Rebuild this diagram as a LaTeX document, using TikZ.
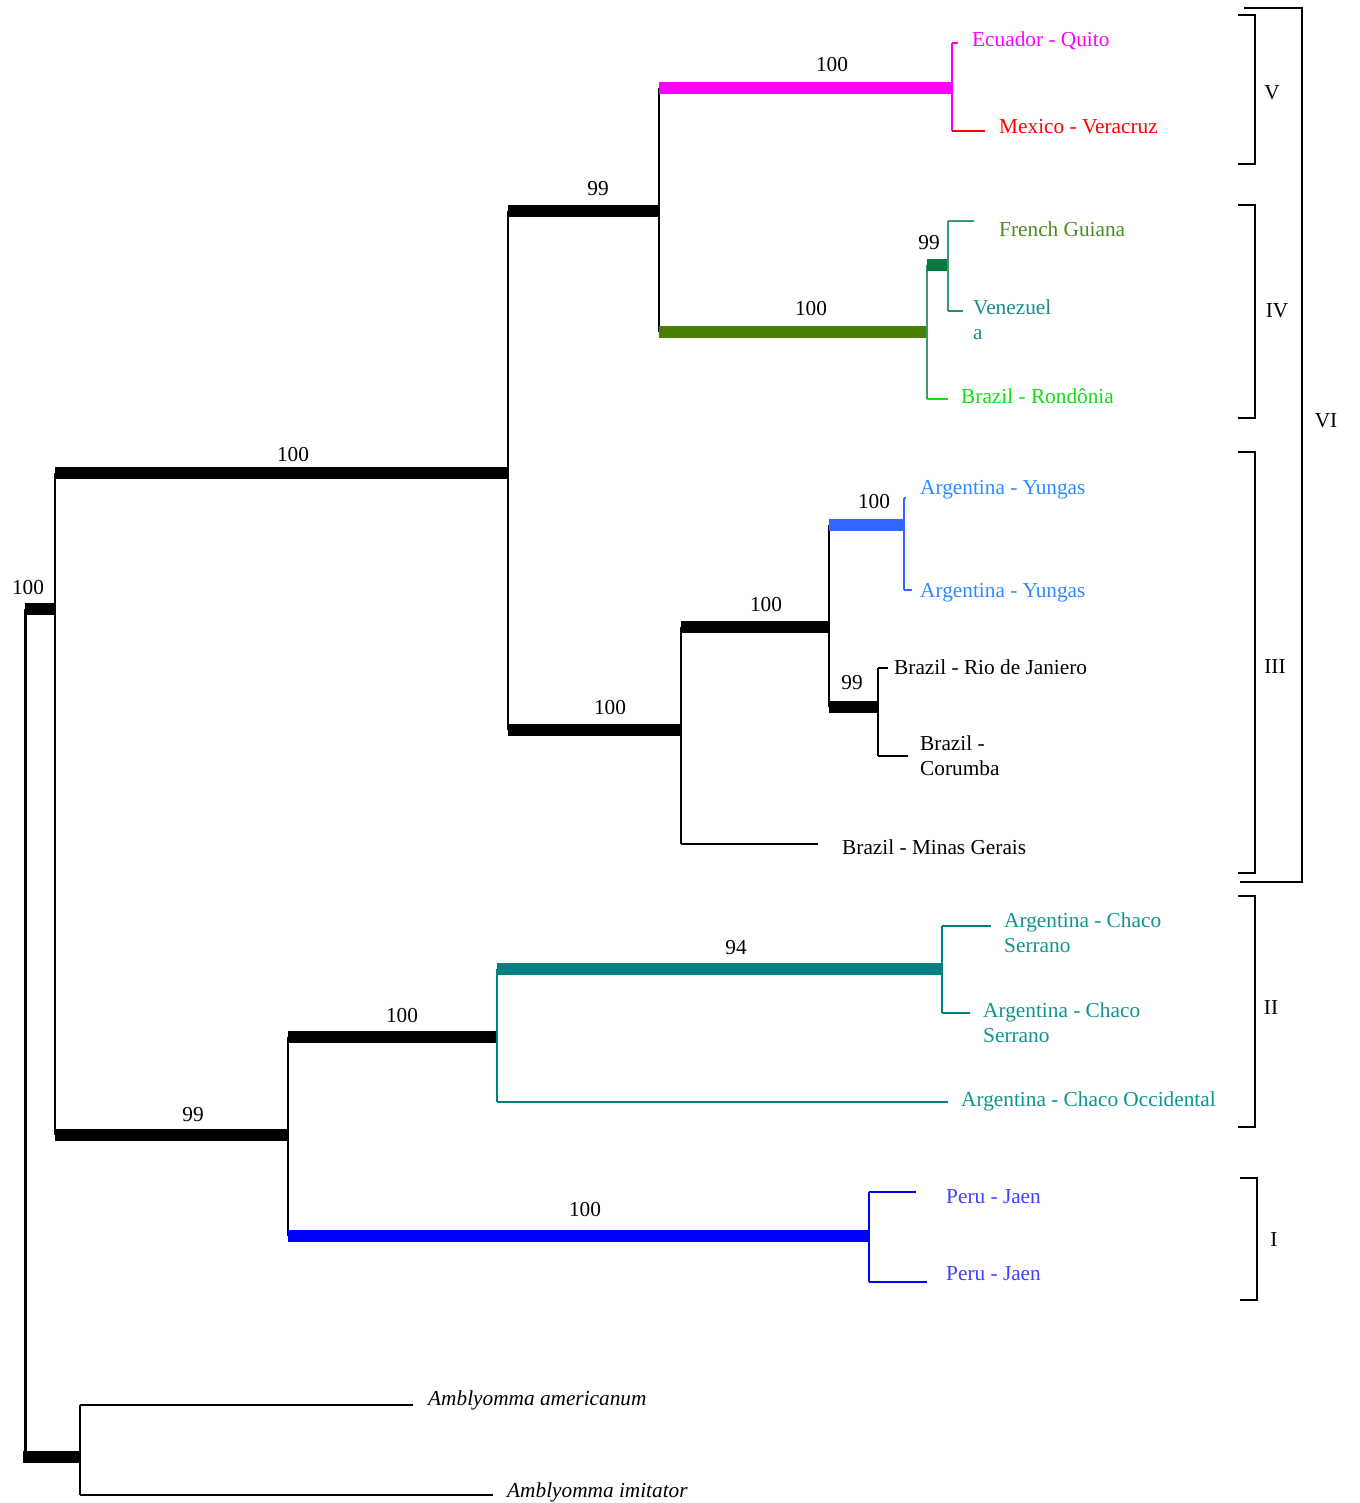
\documentclass[tikz,border=0pt]{standalone}
\usepackage{fontspec}
\setmainfont{Liberation Serif}
\definecolor{cMag}{HTML}{FF00FF}
\definecolor{cRed}{HTML}{FF0000}
\definecolor{cOlive}{HTML}{4A7F00}
\definecolor{cOliveTxt}{HTML}{4B8B1B}
\definecolor{cDkGreen}{HTML}{007A3D}
\definecolor{cGreenLine}{HTML}{3A9A6A}
\definecolor{cVen}{HTML}{198C8C}
\definecolor{cBright}{HTML}{10E010}
\definecolor{cYungBar}{HTML}{3366FF}
\definecolor{cYungTxt}{HTML}{2E8BFF}
\definecolor{cTeal}{HTML}{008080}
\definecolor{cTealTxt}{HTML}{0E9490}
\definecolor{cPeruBar}{HTML}{0000FF}
\definecolor{cPeruTxt}{HTML}{4040FF}
\begin{document}
\begin{tikzpicture}[x=1pt,y=-1pt,
  every node/.style={inner sep=0pt,font=\fontsize{21.3}{25}\selectfont},
  bar/.style={line width=12pt,line cap=butt},
  stem/.style={line width=1.4pt},
  leaf/.style={anchor=base west},
  boot/.style={anchor=base},
  bracket/.style={line width=2pt},
  clade/.style={anchor=base}]
\useasboundingbox (0,0) rectangle (1359,1503);

% internal nodes of the tree
\coordinate (n0) at (25,609);
\coordinate (n1) at (55,609);
\coordinate (n2) at (508,473);
\coordinate (n3) at (659,211);
\coordinate (n4) at (952,88);
\coordinate (n5) at (927,332);
\coordinate (n6) at (948,265);
\coordinate (n7) at (681,730);
\coordinate (n8) at (829,627);
\coordinate (n9) at (904,525);
\coordinate (n10) at (878,707);
\coordinate (n11) at (288,1135);
\coordinate (n12) at (497,1037);
\coordinate (n13) at (942,969);
\coordinate (n14) at (869,1236);
\coordinate (n15) at (80,1457);
\coordinate (n0b) at (23,1457);

% leaf line ends
\coordinate (lQuito) at (958,43);
\coordinate (lVera) at (985,131);
\coordinate (lGuia) at (974,221);
\coordinate (lVen) at (963,311);
\coordinate (lRond) at (948,399);
\coordinate (lYung1) at (906,498);
\coordinate (lYung2) at (912,590);
\coordinate (lRio) at (888,668);
\coordinate (lCor) at (908,756);
\coordinate (lMin) at (818,844);
\coordinate (lSer1) at (991,926);
\coordinate (lSer2) at (970,1013);
\coordinate (lOcc) at (948,1102);
\coordinate (lPeru1) at (916,1192);
\coordinate (lPeru2) at (927,1282);
\coordinate (lAme) at (413,1405);
\coordinate (lImi) at (493,1495);

% root
\draw[line width=3pt] (n0) -- (n0 |- n15);
\draw[bar] (n0 |- n1) -- (n1);
\draw[bar] (n0b) -- (n15);

% ingroup backbone
\draw[stem] (n1 |- n2) -- (n1 |- n11);
\draw[bar] (n1 |- n2) -- (n2);
\draw[bar] (n1 |- n11) -- (n11);

% clade VI
\draw[stem] (n2 |- n3) -- (n2 |- n7);
\draw[bar] (n2 |- n3) -- (n3);
\draw[bar] (n2 |- n7) -- (n7);

\draw[stem] (n3 |- n4) -- (n3 |- n5);
\draw[bar,cMag] (n3 |- n4) -- (n4);
\draw[bar,cOlive] (n3 |- n5) -- (n5);

% clade V
\draw[stem,cMag] (n4 |- lQuito) -- (n4 |- lVera);
\draw[stem,cMag] (n4 |- lQuito) -- (lQuito);
\draw[stem,cRed] (n4 |- lVera) -- (lVera);

% clade IV
\draw[stem,cGreenLine] (n5 |- n6) -- (n5 |- lRond);
\draw[bar,cDkGreen] (n5 |- n6) -- (n6);
\draw[stem,cBright] (n5 |- lRond) -- (lRond);
\draw[stem,cGreenLine] (n6 |- lGuia) -- (n6 |- lVen);
\draw[stem,cGreenLine] (n6 |- lGuia) -- (lGuia);
\draw[stem,cVen] (n6 |- lVen) -- (lVen);

% clade III
\draw[stem] (n7 |- n8) -- (n7 |- lMin);
\draw[bar] (n7 |- n8) -- (n8);
\draw[stem] (n7 |- lMin) -- (lMin);
\draw[stem] (n8 |- n9) -- (n8 |- n10);
\draw[bar,cYungBar] (n8 |- n9) -- (n9);
\draw[bar] (n8 |- n10) -- (n10);
\draw[stem,cYungBar] (n9 |- lYung1) -- (n9 |- lYung2);
\draw[stem,cYungBar] (n9 |- lYung1) -- (lYung1);
\draw[stem,cYungBar] (n9 |- lYung2) -- (lYung2);
\draw[stem] (n10 |- lRio) -- (n10 |- lCor);
\draw[stem] (n10 |- lRio) -- (lRio);
\draw[stem] (n10 |- lCor) -- (lCor);

% clades II and I
\draw[stem] (n11 |- n12) -- (n11 |- n14);
\draw[bar] (n11 |- n12) -- (n12);
\draw[bar,cPeruBar] (n11 |- n14) -- (n14);
\draw[stem,cTeal] (n12 |- n13) -- (n12 |- lOcc);
\draw[bar,cTeal] (n12 |- n13) -- (n13);
\draw[stem,cTeal] (n12 |- lOcc) -- (lOcc);
\draw[stem,cTeal] (n13 |- lSer1) -- (n13 |- lSer2);
\draw[stem,cTeal] (n13 |- lSer1) -- (lSer1);
\draw[stem,cTeal] (n13 |- lSer2) -- (lSer2);
\draw[stem,cPeruBar] (n14 |- lPeru1) -- (n14 |- lPeru2);
\draw[stem,cPeruBar] (n14 |- lPeru1) -- (lPeru1);
\draw[stem,cPeruBar] (n14 |- lPeru2) -- (lPeru2);

% outgroup
\draw[stem] (n15 |- lAme) -- (n15 |- lImi);
\draw[stem] (n15 |- lAme) -- (lAme);
\draw[stem] (n15 |- lImi) -- (lImi);

% bootstrap values
\node[boot] (b1) at (28,594) {100};
\node[boot] (b2) at (293,461) {100};
\node[boot] (b3) at (193,1121) {99};
\node[boot] (b4) at (598,196) {99};
\node[boot] (b5) at (610,714) {100};
\node[boot] (b6) at (832,72) {100};
\node[boot] (b7) at (811,316) {100};
\node[boot] (b8) at (929,250) {99};
\node[boot] (b9) at (766,611) {100};
\node[boot] (b10) at (874,508) {100};
\node[boot] (b11) at (852,689) {99};
\node[boot] (b12) at (402,1022) {100};
\node[boot] (b13) at (736,954) {94};
\node[boot] (b14) at (585,1216) {100};

% taxon labels
\node[leaf,text=cMag] (tQuito) at (972,47) {Ecuador - Quito};
\node[leaf,text=cRed] (tVera) at (999,134) {Mexico - Veracruz};
\node[leaf,text=cOliveTxt] (tGuia) at (999,237) {French Guiana};
\node[leaf,text=cVen] (tVen1) at (973,314) {Venezuel};
\node[leaf,text=cVen] (tVen2) at (973,339) {a};
\node[leaf,text=cBright] (tRond) at (961,403) {Brazil - Rondônia};
\node[leaf,text=cYungTxt] (tYung1) at (920,494) {Argentina - Yungas};
\node[leaf,text=cYungTxt] (tYung2) at (920,597) {Argentina - Yungas};
\node[leaf] (tRio) at (894,674) {Brazil - Rio de Janiero};
\node[leaf] (tCor1) at (920,750) {Brazil -};
\node[leaf] (tCor2) at (920,775) {Corumba};
\node[leaf] (tMin) at (842,854) {Brazil - Minas Gerais};
\node[leaf,text=cTealTxt] (tSer1a) at (1004,927) {Argentina - Chaco};
\node[leaf,text=cTealTxt] (tSer1b) at (1004,952) {Serrano};
\node[leaf,text=cTealTxt] (tSer2a) at (983,1017) {Argentina - Chaco};
\node[leaf,text=cTealTxt] (tSer2b) at (983,1042) {Serrano};
\node[leaf,text=cTealTxt] (tOcc) at (961,1106) {Argentina - Chaco Occidental};
\node[leaf,text=cPeruTxt] (tPeru1) at (946,1203) {Peru - Jaen};
\node[leaf,text=cPeruTxt] (tPeru2) at (946,1280) {Peru - Jaen};
\node[leaf,font=\fontsize{21.3}{25}\selectfont\itshape] (tAme) at (428,1405) {Amblyomma americanum};
\node[leaf,font=\fontsize{21.3}{25}\selectfont\itshape] (tImi) at (507,1497) {Amblyomma imitator};

% clade brackets
\draw[bracket] (1238,15) -- (1255,15) -- (1255,164) -- (1238,164);
\draw[bracket] (1238,205) -- (1255,205) -- (1255,418) -- (1238,418);
\draw[bracket] (1238,452) -- (1255,452) -- (1255,873) -- (1238,873);
\draw[bracket] (1238,896) -- (1255,896) -- (1255,1127) -- (1238,1127);
\draw[bracket] (1240,1178) -- (1257,1178) -- (1257,1300) -- (1240,1300);
\draw[bracket] (1244,8) -- (1302,8) -- (1302,882) -- (1240,882);
\node[clade] (cV) at (1272,100) {V};
\node[clade] (cIV) at (1277,317) {IV};
\node[clade] (cIII) at (1275,673) {III};
\node[clade] (cII) at (1271,1014) {II};
\node[clade] (cI) at (1274,1246) {I};
\node[clade] (cVI) at (1326,427) {VI};
\end{tikzpicture}
\end{document}
